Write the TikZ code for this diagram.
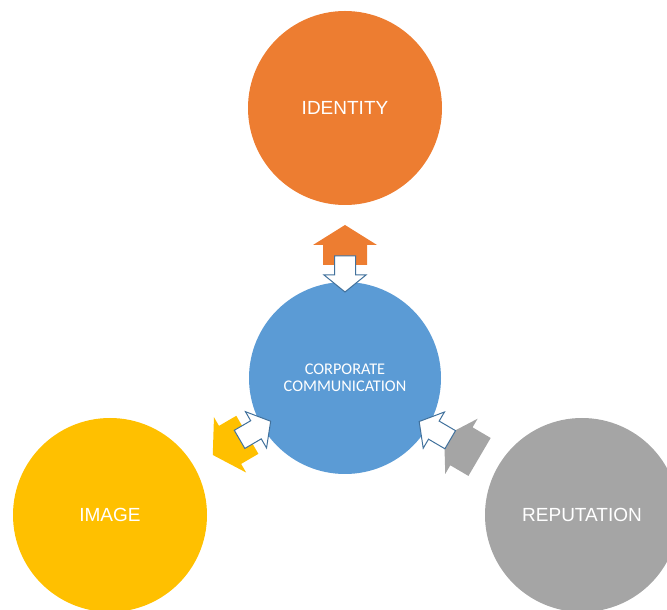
\documentclass[tikz,border=0pt]{standalone}
\usepackage{fontspec}
\setmainfont{Liberation Sans}
\newfontfamily\calibfont{Carlito}
\definecolor{idorange}{HTML}{ED7D31}
\definecolor{ccblue}{HTML}{5B9BD5}
\definecolor{imgyellow}{HTML}{FFC000}
\definecolor{repgray}{HTML}{A5A5A5}
\definecolor{arrowline}{HTML}{41719C}
\newcommand\coloredout[2]{%
  \begin{scope}[shift={(comm.center)}, rotate=#1]
    \fill[#2] (113,-22) -- (133,-22) -- (133,-32) -- (153,0) -- (133,32) -- (133,22) -- (113,22) -- cycle;
  \end{scope}}
\newcommand\coloredin[2]{%
  \begin{scope}[shift={(comm.center)}, rotate=#1]
    \fill[#2] (156,-22) -- (135,-22) -- (135,-32) -- (115,0) -- (135,32) -- (135,22) -- (156,22) -- cycle;
  \end{scope}}
\newcommand\whitein[1]{%
  \begin{scope}[shift={(comm.center)}, rotate=#1]
    \filldraw[fill=white, draw=arrowline, line width=1pt, line join=miter]
      (122,-10.5) -- (103,-10.5) -- (103,-21) -- (86,0) -- (103,21) -- (103,10.5) -- (122,10.5) -- cycle;
  \end{scope}}
\begin{document}
\begin{tikzpicture}[x=1pt,y=1pt,
  bubble/.style={circle, minimum size=194pt, inner sep=0pt, text=white,
    font=\fontsize{19}{22}\selectfont},
  hub/.style={circle, minimum size=192pt, inner sep=0pt, text=white, align=center,
    font=\calibfont\fontsize{16.3}{17.5}\selectfont}]
\useasboundingbox (0,0) rectangle (667,610);
\clip (0,0) rectangle (667,610);
\node[bubble, fill=idorange] (identity) at (345,502) {IDENTITY};
\node[hub, fill=ccblue] (comm) at (345,232) {CORPORATE\\COMMUNICATION};
\node[bubble, fill=imgyellow] (image) at (110,95) {IMAGE};
\node[bubble, fill=repgray] (reputation) at (582,95) {REPUTATION};
\coloredout{90}{idorange}
\coloredout{210.2}{imgyellow}
\coloredin{-30.4}{repgray}
\whitein{90}
\whitein{210.2}
\whitein{-30.4}
\end{tikzpicture}
\end{document}
